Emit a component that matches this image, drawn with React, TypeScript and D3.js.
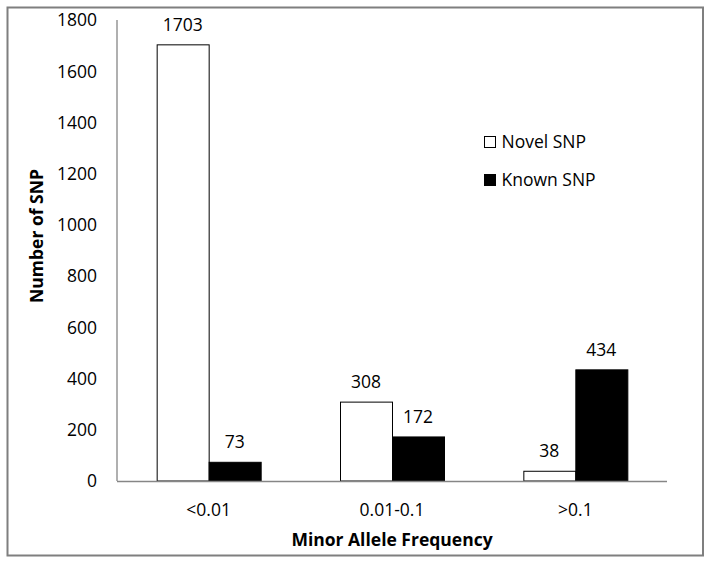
import React from 'react';
import * as d3 from 'd3';

const categories = ['<0.01', '0.01-0.1', '>0.1'];
const seriesNames = ['Novel SNP', 'Known SNP'];
const novelSNP = [1703, 308, 38];
const knownSNP = [73, 172, 434];
const yTicks = [0, 200, 400, 600, 800, 1000, 1200, 1400, 1600, 1800];

const W = 711;
const H = 566;
const FONT = '"Open Sans", sans-serif';
const FS = 17.5;

export default function App() {
  const left = 117;
  const right = 667;
  const top = 20;
  const bottom = 481;

  const x = d3.scaleBand<string>().domain(categories).range([left, right]).paddingInner(0).paddingOuter(0);
  const barW = 52;
  const y = d3.scaleLinear().domain([0, 1800]).range([bottom, top]);
  const series = [novelSNP, knownSNP];
  const fills = ['#ffffff', '#000000'];

  return (
    <svg width={W} height={H} style={{ position: 'absolute', left: 0, top: 0 }}>
      <rect x={0} y={0} width={W} height={H} fill="#fff" />
      <rect x={7.5} y={7.5} width={695.5} height={548} fill="#fff" stroke="#7f7f7f" strokeWidth={2} />

      {/* y axis */}
      <line x1={left} x2={left} y1={top} y2={bottom} stroke="#868686" strokeWidth={1.3} />
      {yTicks.map((t) => (
        <text key={t} x={97} y={y(t)} dy="0.36em" textAnchor="end" fontFamily={FONT} fontSize={FS} fill="#000">
          {t}
        </text>
      ))}

      {/* bars */}
      {categories.map((c, ci) => {
        const cx = x(c)! + x.bandwidth() / 2;
        return series.map((s, si) => {
          const bx = cx - barW + si * barW;
          return (
            <g key={c + si}>
              <rect
                x={bx + 0.5}
                y={y(s[ci])}
                width={barW}
                height={bottom - y(s[ci])}
                fill={fills[si]}
                stroke="#000"
                strokeWidth={1}
              />
              <text x={bx + barW / 2} y={y(s[ci]) - 14} textAnchor="middle" fontFamily={FONT} fontSize={FS} fill="#000">
                {s[ci]}
              </text>
            </g>
          );
        });
      })}

      {/* x axis */}
      <line x1={left} x2={right} y1={bottom + 0.5} y2={bottom + 0.5} stroke="#868686" strokeWidth={1.3} />
      {categories.map((c) => (
        <text key={c} x={x(c)! + x.bandwidth() / 2} y={516} textAnchor="middle" fontFamily={FONT} fontSize={FS} fill="#000">
          {c}
        </text>
      ))}

      {/* axis titles */}
      <text x={392} y={546} textAnchor="middle" fontFamily={FONT} fontSize={FS} fontWeight="bold" fill="#000">
        Minor Allele Frequency
      </text>
      <text
        transform={`translate(43,236) rotate(-90)`}
        textAnchor="middle"
        fontFamily={FONT}
        fontSize={FS}
        fontWeight="bold"
        fill="#000"
      >
        Number of SNP
      </text>

      {/* legend */}
      {seriesNames.map((n, i) => (
        <g key={n} transform={`translate(484.5,${136.5 + i * 38})`}>
          <rect x={0} y={0} width={11} height={11} fill={fills[i]} stroke="#000" strokeWidth={1} />
          <text x={17} y={11} fontFamily={FONT} fontSize={FS} fill="#000">
            {n}
          </text>
        </g>
      ))}
    </svg>
  );
}
